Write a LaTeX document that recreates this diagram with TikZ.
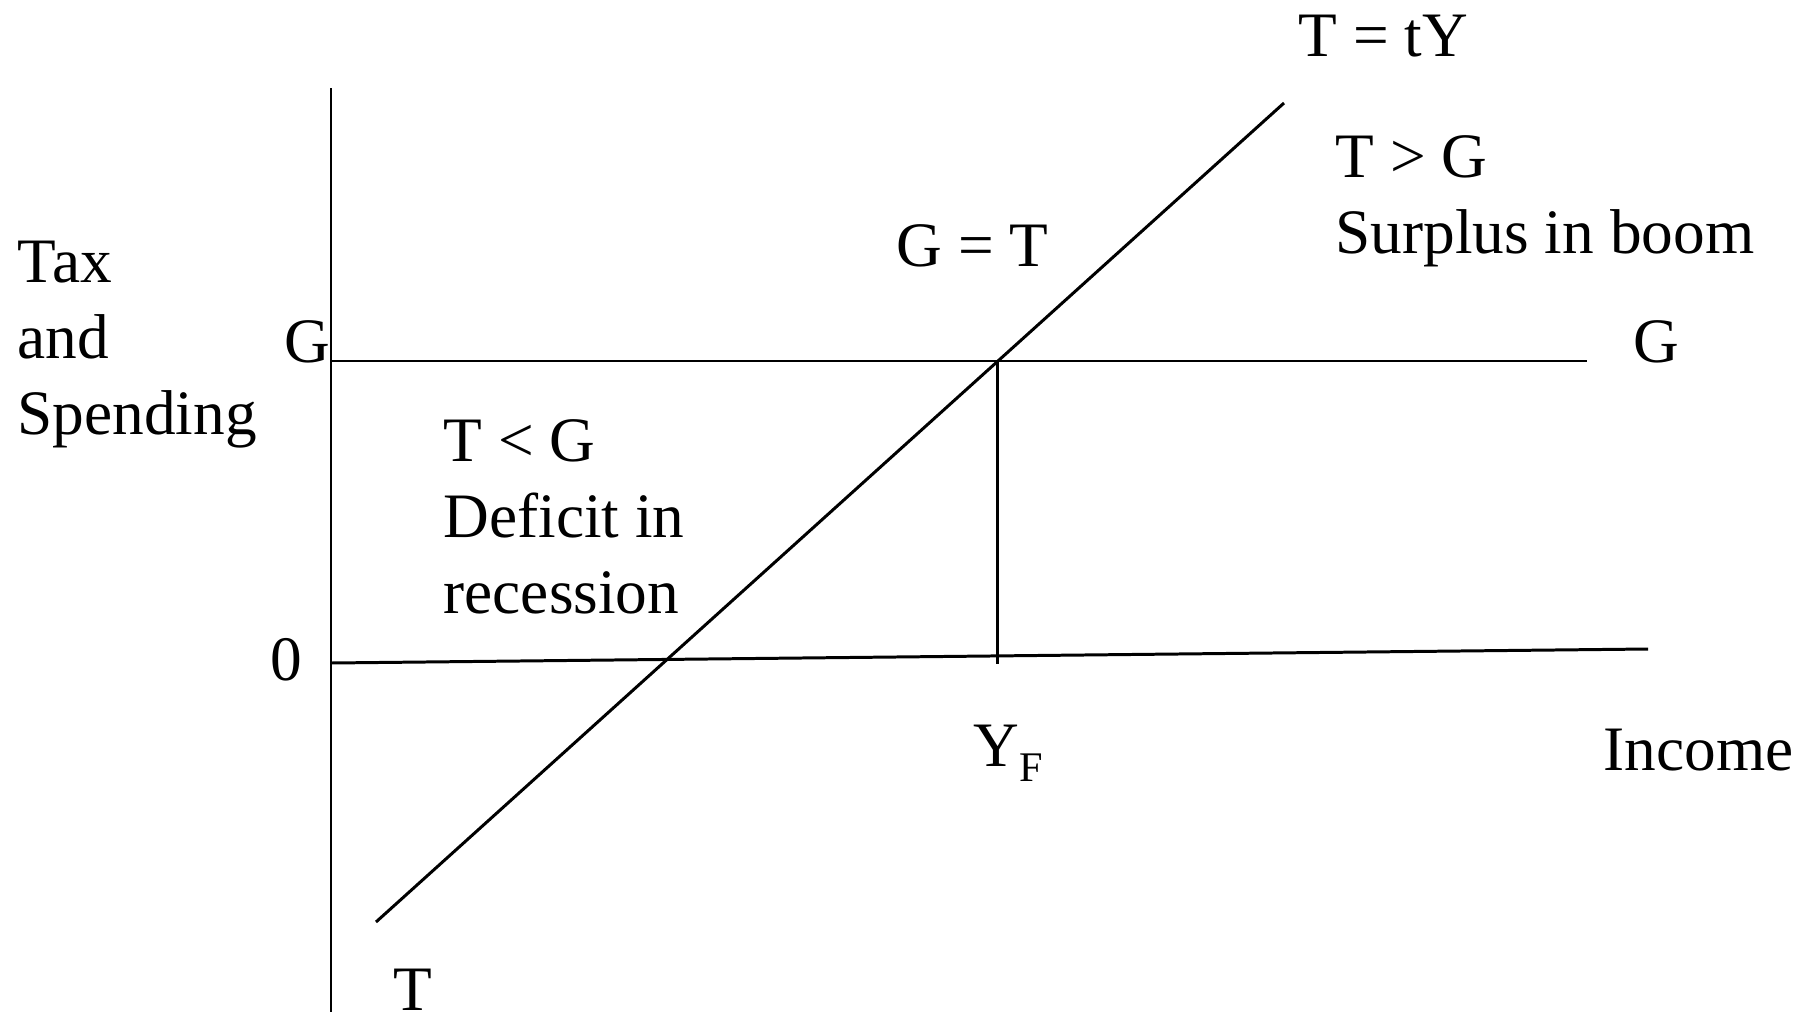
\documentclass[tikz,border=0pt]{standalone}
\usepackage{fontspec}
\setmainfont{Liberation Serif}
\usepackage{tikz}
\usetikzlibrary{positioning,calc}

\begin{document}
\begin{tikzpicture}[
    x=0.01cm, y=-0.01cm,
    ln/.style={line width=0.85pt, black},
    lbl/.style={inner sep=0pt, anchor=base west, align=left,
                font=\fontsize{18pt}{21.6pt}\selectfont}
]
\useasboundingbox (0,0) rectangle (1809,1015);

% axes and lines
\coordinate (ytop) at (331,88);
\coordinate (ybot) at (331,1012);
\coordinate (zl) at (331,663);
\coordinate (zr) at (1648,649);
\coordinate (gl) at (331,361);
\coordinate (gr) at (1587,361);
\coordinate (tlo) at (376,922);
\coordinate (thi) at (1284,103);
\coordinate (yf) at (997,361);
\coordinate (yfb) at (997,664);

\draw[ln] (ytop) -- (ybot);
\draw[ln] (zl) -- (zr);
\draw[ln] (gl) -- (gr);
\draw[ln] (tlo) -- (thi);
\draw[ln] (yf) -- (yfb);

% labels (multi-line ones sit on their last baseline)
\node[lbl] (ylab) at (17,434) {Tax\\and\\Spending};
\node[lbl, anchor=base east] (gleft) at (331,362) {G};
\node[lbl] (gright) at (1633,362) {G};
\node[lbl, anchor=base east] (zero) at (303,680) {0};
\node[lbl] (tty) at (1298,56) {T = tY};
\node[lbl] (tgt) at (1335,253) {T > G\\Surplus in boom};
\node[lbl] (geqt) at (896,266) {G = T};
\node[lbl] (tlt) at (443,613) {T < G\\Deficit in\\recession};
\node[lbl] (yflab) at (973,766) {Y\raisebox{-4.5pt}{\fontsize{12pt}{14pt}\selectfont F}};
\node[lbl] (inc) at (1603,770) {Income};
\node[lbl] (tlab) at (393,1010) {T};
\end{tikzpicture}
\end{document}
